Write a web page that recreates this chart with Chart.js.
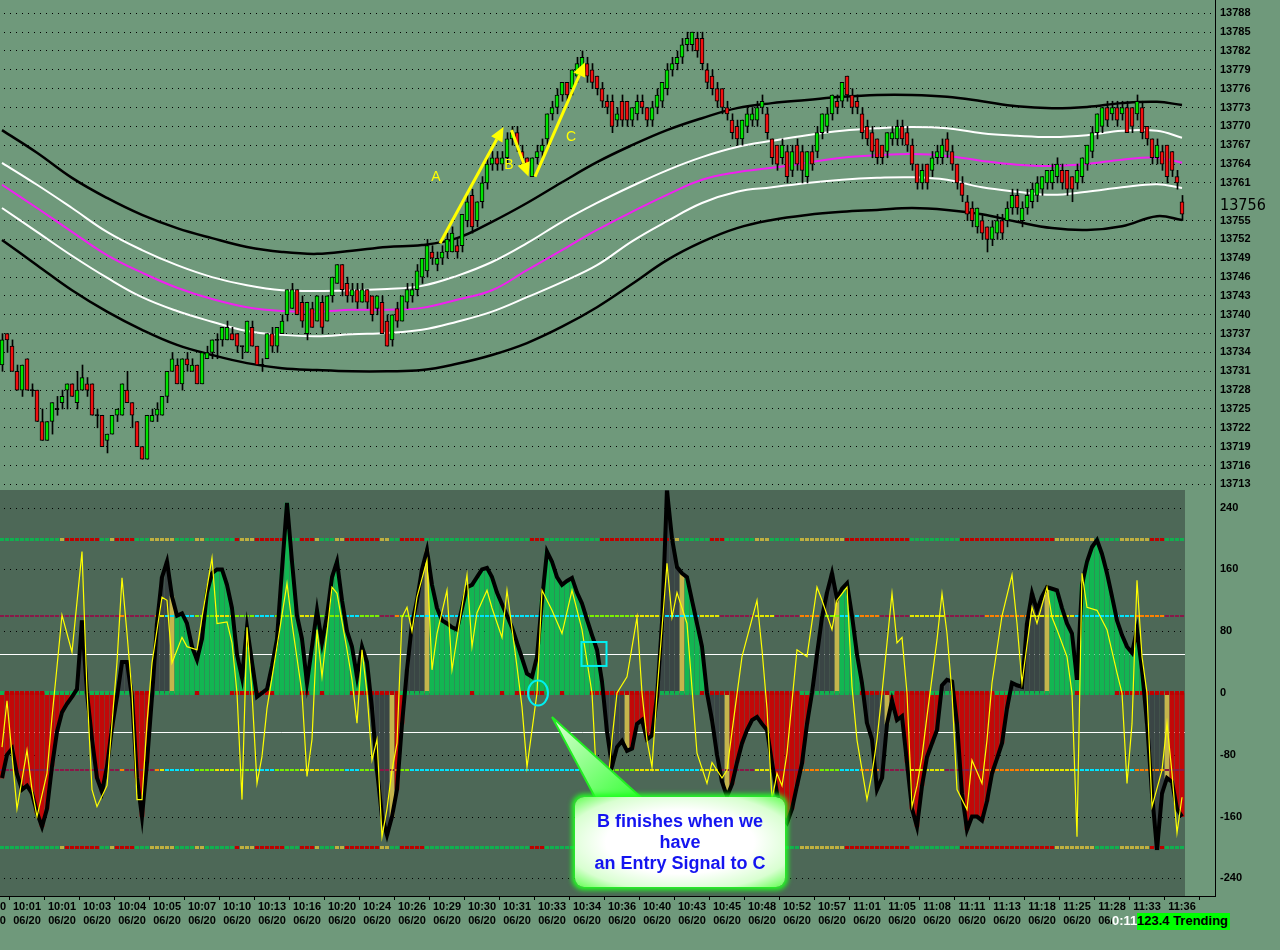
<!DOCTYPE html>
<html>
<head>
<meta charset="utf-8">
<script src="https://cdn.jsdelivr.net/npm/chart.js@4.4.1/dist/chart.umd.min.js"></script>
<style>
html,body{margin:0;padding:0;width:1280px;height:950px;overflow:hidden;background:#6F997B;}
#wrap{position:relative;width:1280px;height:950px;overflow:hidden;}
#top{position:absolute;left:-20px;top:0;}
#osc{position:absolute;left:-20px;top:490px;}
#pointer{position:absolute;left:0;top:0;}
.callout{position:absolute;left:575px;top:797px;width:210px;height:90px;border-radius:9px;
  background:radial-gradient(ellipse at center,#ffffff 50%,#d8ffd0 78%,#60ff50 100%);
  box-shadow:0 0 5px 3px #22ff22;color:#1414f0;
  font:bold 18px "Liberation Sans",Arial,sans-serif;line-height:21px;text-align:center;
  display:flex;align-items:center;justify-content:center;}
#clock{position:absolute;left:1112px;top:913px;height:17px;line-height:17px;width:25px;
  background:#6F997B;color:#fff;font:bold 13px "Liberation Sans",Arial,sans-serif;}
#state{position:absolute;left:1137px;top:913px;height:17px;line-height:17px;width:93px;
  background:#00FF00;color:#000;font:bold 13px "Liberation Sans",Arial,sans-serif;white-space:nowrap;}
</style>
</head>
<body>
<div id="wrap">
  <canvas id="top" width="1300" height="490"></canvas>
  <canvas id="osc" width="1300" height="460"></canvas>
  <svg id="pointer" width="1280" height="950">
    <defs>
      <linearGradient id="pg" x1="0" y1="0" x2="1" y2="1">
        <stop offset="0" stop-color="#e0ffd8"/>
        <stop offset="1" stop-color="#30ff30"/>
      </linearGradient>
    </defs>
    <polygon points="552,717 597,801 645,801" fill="url(#pg)" stroke="#22ee22" stroke-width="2"/>
  </svg>
  <div class="callout">B finishes when we<br>have<br>an Entry Signal to C</div>
  <div id="clock">0:11</div>
  <div id="state">123.4 Trending</div>
</div>
<script>
// ---- price panel data (YM 1-tick bars, 06/20) ----
const OPEN = [
13732,13737,13735,13731,13728,13733,13728,13728,13723,13720,
13723,13725,13726,13728,13729,13726,13728,13729,13729,13724,
13724,13720,13721,13724,13724,13728,13726,13723,13719,13717,
13723,13724,13724,13727,13731,13732,13729,13733,13731,13732,
13729,13733,13734,13736,13736,13736,13737,13737,13735,13734,
13738,13735,13732,13733,13737,13735,13737,13740,13741,13744,
13742,13737,13741,13739,13742,13739,13743,13745,13748,13745,
13743,13744,13742,13744,13743,13741,13742,13739,13736,13741,
13739,13742,13743,13744,13746,13747,13750,13748,13749,13750,
13750,13751,13751,13755,13759,13755,13758,13761,13764,13765,
13764,13765,13768,13769,13766,13765,13762,13765,13766,13768,
13772,13773,13775,13777,13776,13778,13779,13780,13779,13778,
13776,13774,13774,13771,13774,13774,13771,13772,13774,13773,
13771,13773,13774,13776,13779,13780,13781,13783,13783,13784,
13784,13779,13778,13776,13776,13773,13771,13770,13768,13770,
13771,13771,13773,13772,13768,13767,13765,13766,13763,13767,
13766,13762,13766,13766,13769,13770,13772,13774,13774,13778,
13775,13774,13772,13770,13769,13768,13767,13766,13768,13768,
13770,13769,13767,13764,13761,13764,13763,13765,13765,13768,
13766,13764,13761,13758,13757,13754,13755,13754,13752,13753,
13755,13755,13757,13759,13755,13757,13758,13759,13760,13761,
13761,13762,13763,13763,13762,13761,13762,13764,13766,13769,
13770,13773,13772,13773,13772,13773,13773,13772,13773,13770,
13768,13765,13766,13767,13766,13762,13758];
const HIGH = [
13737,13737,13736,13732,13732,13733,13729,13728,13725,13723,
13726,13727,13728,13729,13729,13731,13732,13730,13729,13725,
13724,13721,13724,13725,13729,13731,13726,13723,13719,13724,
13725,13726,13727,13731,13734,13733,13733,13734,13733,13732,
13734,13735,13736,13737,13738,13739,13738,13737,13735,13739,
13739,13735,13733,13737,13738,13738,13740,13744,13745,13744,
13743,13742,13742,13743,13743,13743,13746,13748,13748,13746,
13745,13745,13745,13744,13743,13743,13743,13740,13740,13742,
13743,13745,13745,13748,13749,13752,13751,13750,13751,13753,
13754,13752,13756,13759,13760,13758,13762,13765,13766,13766,
13766,13769,13770,13770,13767,13765,13765,13767,13768,13772,
13774,13776,13777,13777,13779,13781,13782,13781,13780,13778,
13777,13775,13775,13773,13775,13774,13773,13775,13775,13773,
13774,13776,13777,13780,13781,13782,13784,13785,13785,13785,
13785,13780,13779,13777,13776,13774,13772,13771,13771,13773,
13773,13774,13775,13773,13768,13767,13768,13767,13767,13768,
13767,13766,13767,13770,13772,13773,13775,13775,13777,13778,
13776,13775,13773,13771,13770,13768,13767,13769,13770,13771,
13771,13770,13768,13764,13764,13764,13766,13767,13768,13769,
13767,13764,13762,13759,13758,13757,13756,13754,13755,13756,
13756,13758,13760,13760,13758,13760,13761,13762,13762,13763,
13764,13765,13764,13763,13762,13764,13765,13767,13770,13772,
13773,13774,13774,13774,13774,13774,13773,13775,13774,13770,
13768,13768,13767,13767,13766,13763,13759];
const LOW = [
13731,13734,13731,13728,13727,13728,13727,13723,13720,13720,
13721,13724,13725,13725,13727,13725,13728,13727,13724,13722,
13719,13718,13721,13723,13724,13726,13722,13719,13717,13717,
13723,13723,13724,13726,13731,13729,13728,13731,13731,13729,
13729,13733,13733,13733,13735,13736,13736,13734,13733,13734,
13735,13732,13731,13733,13734,13734,13737,13739,13741,13740,
13738,13736,13738,13739,13737,13739,13742,13745,13743,13742,
13742,13741,13742,13741,13739,13740,13737,13735,13735,13738,
13739,13741,13742,13743,13745,13746,13748,13747,13748,13749,
13750,13749,13750,13754,13753,13754,13757,13760,13763,13763,
13763,13764,13767,13766,13764,13763,13762,13764,13765,13767,
13771,13772,13774,13774,13775,13777,13779,13777,13776,13775,
13773,13772,13769,13770,13770,13770,13770,13771,13772,13770,
13770,13772,13773,13775,13778,13779,13780,13782,13782,13781,
13779,13776,13775,13773,13772,13771,13768,13767,13767,13769,
13770,13770,13772,13768,13764,13763,13764,13761,13762,13763,
13761,13761,13763,13765,13768,13769,13771,13772,13773,13774,
13772,13772,13768,13767,13765,13764,13764,13765,13767,13767,
13767,13766,13763,13760,13760,13760,13762,13764,13764,13765,
13763,13760,13758,13755,13754,13753,13752,13750,13751,13752,
13752,13754,13756,13756,13754,13756,13757,13758,13759,13760,
13760,13761,13760,13759,13758,13760,13761,13763,13765,13768,
13769,13770,13771,13770,13771,13769,13769,13771,13768,13767,
13764,13764,13763,13761,13762,13760,13755];
const CLOSE = [
13736,13736,13731,13728,13732,13728,13728,13723,13720,13723,
13726,13725,13727,13729,13727,13728,13730,13728,13724,13724,
13719,13721,13724,13725,13729,13726,13724,13719,13717,13724,
13724,13725,13727,13731,13733,13729,13733,13732,13732,13729,
13734,13734,13736,13736,13738,13738,13736,13735,13735,13739,
13735,13732,13732,13737,13735,13738,13739,13744,13744,13740,
13739,13742,13738,13743,13738,13743,13746,13748,13744,13743,
13744,13742,13744,13742,13740,13743,13737,13735,13740,13739,
13743,13744,13744,13747,13749,13751,13749,13749,13750,13752,
13753,13750,13756,13758,13754,13758,13761,13764,13765,13764,
13765,13768,13769,13767,13765,13764,13765,13766,13767,13772,
13773,13775,13777,13775,13779,13780,13781,13778,13777,13776,
13774,13773,13770,13772,13771,13771,13773,13774,13773,13771,
13773,13775,13777,13779,13780,13781,13783,13784,13785,13782,
13780,13777,13776,13774,13773,13772,13769,13768,13771,13772,
13772,13773,13774,13769,13765,13764,13767,13762,13766,13764,
13763,13766,13764,13769,13772,13772,13775,13773,13777,13775,
13773,13773,13769,13768,13766,13765,13765,13769,13769,13770,
13768,13767,13764,13761,13763,13761,13765,13766,13767,13766,
13764,13761,13759,13756,13755,13757,13753,13752,13754,13755,
13753,13757,13759,13757,13757,13759,13760,13761,13762,13763,
13763,13764,13761,13760,13760,13763,13765,13767,13769,13772,
13773,13771,13773,13771,13773,13769,13770,13774,13769,13768,
13765,13767,13764,13762,13763,13761,13756];

// envelope bands, sampled every 7 bars
const BAND_BARS = [0,7,14,21,28,35,42,49,56,63,70,77,84,91,98,105,112,119,126,133,140,147,154,161,168,175,182,189,196,203,210,217,224,231,236];
const UPPER_OUTER = [13769.4,13765.8,13761.8,13758.6,13755.9,13753.8,13752.2,13750.8,13750.0,13749.7,13750.2,13750.8,13751.1,13752.2,13754.8,13757.8,13761.1,13764.3,13767.0,13769.4,13771.3,13772.9,13773.7,13774.2,13774.7,13775.0,13775.0,13774.7,13774.0,13773.2,13772.9,13773.1,13773.7,13773.9,13773.4];
const UPPER_INNER = [13764.2,13760.7,13757.0,13753.2,13750.3,13747.9,13746.0,13744.7,13743.9,13743.8,13743.9,13744.1,13744.6,13746.2,13748.4,13751.4,13754.8,13757.8,13760.5,13763.0,13765.1,13766.7,13767.7,13768.6,13769.3,13769.7,13769.9,13769.7,13768.9,13768.5,13768.3,13768.6,13769.3,13769.3,13768.2];
const MIDLINE = [13760.7,13757.0,13753.2,13749.5,13746.7,13744.3,13742.5,13741.2,13740.6,13740.5,13740.8,13740.8,13741.1,13742.4,13743.9,13747.1,13750.3,13753.5,13756.4,13759.1,13761.5,13762.7,13763.4,13764.2,13765.0,13765.4,13765.6,13765.3,13764.5,13763.9,13763.7,13764.0,13764.7,13765.0,13764.2];
const LOWER_INNER = [13757.0,13753.2,13749.4,13745.9,13742.8,13740.6,13738.9,13737.4,13736.8,13736.6,13736.9,13737.1,13737.6,13738.9,13740.5,13742.8,13745.2,13747.9,13751.7,13754.9,13757.8,13759.6,13760.3,13761.0,13761.5,13761.8,13761.9,13761.5,13760.3,13759.6,13759.1,13759.6,13760.3,13760.8,13760.2];
const LOWER_OUTER = [13751.9,13747.9,13743.9,13740.5,13737.6,13735.2,13733.6,13732.3,13731.5,13731.2,13731.0,13731.0,13731.2,13732.2,13733.6,13735.5,13738.1,13741.2,13744.9,13748.7,13751.6,13753.8,13755.1,13755.9,13756.4,13756.7,13757.0,13756.7,13756.0,13754.8,13753.8,13753.5,13754.1,13755.7,13755.1];

const PRICE_TICKS = [13713,13716,13719,13722,13725,13728,13731,13734,13737,13740,13743,13746,13749,13752,13755,13761,13764,13767,13770,13773,13776,13779,13782,13785,13788];
const LAST_PRICE = 13756;

// ---- oscillator data ----
const CCI = [
-110,-80,-72,-105,-125,-120,-130,-155,-173,-150,
-95,-50,-25,-14,-5,5,94,0,-60,-110,
-128,-95,-45,-5,40,40,-5,-110,-160,-90,
-5,90,150,170,125,100,103,90,60,43,
70,130,155,160,160,140,110,50,20,85,
40,-5,0,5,35,70,160,246,170,100,
70,13,60,107,65,100,150,170,120,80,
60,21,60,40,-20,-100,-160,-184,-160,-125,
-40,30,90,120,160,185,140,110,94,90,
85,82,110,137,140,150,160,162,150,130,
115,100,85,65,45,25,21,47,120,183,
170,150,140,145,149,130,116,95,75,56,
15,-50,-95,-70,-62,-75,-72,-40,-35,-60,
-55,-5,90,262,200,163,155,150,120,90,
60,0,-35,-80,-115,-134,-118,-90,-65,-48,
-35,-31,-40,-48,-90,-130,-160,-168,-150,-120,
-91,-40,0,50,98,130,155,122,135,142,
100,50,13,-39,-60,-125,-110,-40,-10,-35,
-30,-90,-150,-173,-120,-83,-65,-48,10,17,
15,-39,-130,-177,-160,-160,-165,-140,-104,-85,
-65,-20,13,10,8,90,129,107,125,137,
135,133,110,90,77,17,140,170,189,198,
180,155,125,94,75,60,52,82,30,-39,
-130,-203,-130,-110,-115,-150,-160];

// turbo line vertices [bar, value]
const TURBO = [[0,-70],[1,-10],[3,-150],[5,-74],[6,-125],[7,-160],[9,-104],[10,-31],[11,34],[12,101],[14,53],[16,183],[17,4],[18,-125],[19,-147],[21,-120],[22,-39],[23,40],[24,149],[25,77],[26,0],[27,-138],[28,-138],[29,-39],[30,39],[32,124],[33,120],[34,39],[36,72],[37,60],[39,56],[40,98],[42,175],[43,90],[45,92],[46,65],[47,0],[48,-138],[49,85],[50,0],[51,-117],[52,-82],[53,-20],[55,60],[57,142],[58,90],[60,0],[61,-108],[62,-60],[63,82],[64,21],[66,137],[67,129],[69,56],[70,17],[71,-39],[72,56],[73,0],[74,-87],[75,-60],[76,-186],[77,-150],[78,-100],[79,-65],[80,98],[81,111],[82,80],[83,124],[85,172],[86,30],[87,77],[89,133],[90,30],[93,153],[94,60],[95,104],[97,133],[98,110],[100,72],[101,133],[103,34],[104,-18],[105,-96],[107,0],[108,133],[110,107],[112,77],[114,133],[116,82],[118,0],[119,-122],[120,-110],[121,-130],[122,-60],[123,0],[125,21],[127,98],[128,0],[129,-61],[130,-96],[131,0],[133,168],[134,98],[135,130],[137,90],[139,-78],[141,-117],[142,-90],[144,-110],[145,-100],[146,-50],[148,47],[151,120],[152,56],[153,-20],[154,-138],[155,-104],[156,-120],[157,-78],[159,56],[161,47],[163,137],[164,120],[166,82],[167,120],[169,137],[170,8],[171,-61],[173,-138],[174,-104],[175,-60],[176,0],[178,129],[179,65],[180,72],[181,0],[182,-147],[183,-120],[184,-82],[185,-30],[187,69],[188,129],[189,77],[190,0],[191,-125],[193,-151],[194,-87],[196,-117],[197,-61],[198,13],[200,100],[202,153],[203,90],[204,13],[206,111],[207,90],[209,137],[210,98],[211,82],[213,47],[214,0],[215,-186],[216,155],[217,111],[219,107],[221,82],[223,26],[224,0],[225,-117],[226,-40],[227,146],[228,47],[229,0],[230,-147],[232,-100],[233,-39],[234,-104],[235,-181],[236,-135]];

// histogram state runs [firstBar, lastBar, code]  G trend up, R trend down, D no trend, K sixth bar
const HIST_RUNS = [[0,14,'R'],[15,17,'D'],[18,22,'R'],[23,26,'D'],[27,29,'R'],[30,33,'D'],[34,34,'K'],[35,73,'G'],[74,77,'D'],[78,78,'K'],[79,80,'R'],[81,84,'D'],[85,85,'K'],[86,120,'G'],[121,124,'D'],[125,125,'K'],[126,131,'R'],[132,135,'D'],[136,136,'K'],[137,140,'G'],[141,144,'D'],[145,145,'K'],[146,161,'R'],[162,166,'D'],[167,167,'K'],[168,172,'G'],[173,176,'D'],[177,177,'K'],[178,187,'R'],[188,190,'D'],[191,201,'R'],[202,208,'D'],[209,209,'K'],[210,228,'G'],[229,232,'D'],[233,233,'K'],[234,236,'R']];
const ZERO_RUNS = [[0,0,'G'],[1,8,'R'],[9,25,'G'],[26,29,'R'],[30,38,'G'],[39,39,'R'],[40,45,'G'],[46,54,'R'],[55,59,'G'],[60,61,'R'],[62,63,'G'],[64,64,'R'],[65,69,'G'],[70,79,'R'],[80,93,'G'],[94,94,'R'],[95,99,'G'],[100,100,'R'],[101,102,'G'],[103,108,'R'],[109,111,'G'],[112,112,'R'],[113,117,'G'],[118,131,'R'],[132,139,'G'],[140,159,'R'],[160,171,'G'],[172,177,'R'],[178,178,'G'],[179,185,'R'],[186,190,'G'],[191,198,'R'],[199,214,'G'],[215,215,'R'],[216,222,'G'],[223,236,'R']];
const LINE200_RUNS = [[0,11,'G'],[12,12,'K'],[13,19,'R'],[20,21,'G'],[22,22,'K'],[23,26,'R'],[27,29,'G'],[30,34,'K'],[35,38,'G'],[39,40,'K'],[41,46,'G'],[47,47,'R'],[48,50,'K'],[51,56,'R'],[57,59,'G'],[60,62,'R'],[63,63,'K'],[64,66,'G'],[67,68,'K'],[69,75,'R'],[76,77,'K'],[78,79,'G'],[80,84,'R'],[85,105,'G'],[106,108,'R'],[109,119,'G'],[120,133,'R'],[134,135,'K'],[136,141,'G'],[142,144,'R'],[145,150,'G'],[151,153,'K'],[154,159,'G'],[160,168,'K'],[169,181,'R'],[182,191,'G'],[192,210,'R'],[211,218,'K'],[219,223,'G'],[224,229,'K'],[230,232,'R'],[233,236,'G']];
const LINE100_RUNS = [[0,23,'M'],[24,24,'O'],[25,30,'M'],[31,31,'O'],[32,32,'Y'],[33,38,'C'],[39,42,'L'],[43,46,'Y'],[47,50,'L'],[51,54,'C'],[55,59,'L'],[60,63,'Y'],[64,68,'L'],[69,71,'C'],[72,75,'L'],[76,78,'M'],[79,79,'O'],[80,81,'L'],[82,116,'C'],[117,126,'L'],[127,131,'Y'],[132,139,'C'],[140,143,'Y'],[144,150,'M'],[151,154,'Y'],[155,159,'M'],[160,163,'O'],[164,167,'L'],[168,171,'C'],[172,175,'O'],[176,181,'M'],[182,188,'Y'],[189,196,'M'],[197,205,'O'],[206,214,'Y'],[215,226,'C'],[227,232,'O'],[233,236,'M']];
const OSC_TICKS = [-240,-160,-80,0,80,160,240];
const OSC_GRID = [-240,-160,-80,80,160,240];

// ---- x axis ----
const TICK_BARS = [-2,5,12,19,26,33,40,47,54,61,68,75,82,89,96,103,110,117,124,131,138,145,152,159,166,173,180,187,194,201,208,215,222,229,236];
const TIME_LABELS = ['10:00','10:01','10:01','10:03','10:04','10:05','10:07','10:10','10:13','10:16','10:20','10:24','10:26','10:29','10:30','10:31','10:33','10:34','10:36','10:40','10:43','10:45','10:48','10:52','10:57','11:01','11:05','11:08','11:11','11:13','11:18','11:25','11:28','11:33','11:36'];
const DATE_LABEL = '06/20';

// ---- annotations ----
const ARROWS = [
  {from:[87.6,13751.4], to:[100.3,13769.9]},
  {from:[101.9,13769.4], to:[105.3,13762.0]},
  {from:[106.6,13762.0], to:[116.6,13780.2]}
];
const WAVE_LABELS = [{t:'A',bar:86.8,p:13761.9},{t:'B',bar:101.4,p:13763.8},{t:'C',bar:113.8,p:13768.3}];
const ENTRY_CIRCLE = {bar:107.2, v:0};
const ENTRY_BOX = {bar1:115.9, bar2:120.9, v1:66, v2:35};

// ---- styles ----
const FONT = '"Liberation Sans", Arial, sans-serif';
const DARK_PANEL = '#4D6857';
const HIST_COL = {G:'#12B652', R:'#C20808', D:'#3A4545', K:'#C4B44C'};
const REF_COL = {G:'#10B050', R:'#C00000', K:'#BFB040', M:'#8A1848', O:'#FF8000', Y:'#E6E600', L:'#7CF000', C:'#00E4FF'};

function runCode(runs, i) {
  for (const r of runs) if (i >= r[0] && i <= r[1]) return r[2];
  return null;
}

const X_MIN = -4.4, X_MAX = 242.6;
function fitRight(w) {
  return s => { s.width = w; s.paddingTop = 0; s.paddingBottom = 0; };
}
const plainTick = v => String(v);

// ================= price chart =================
const bodyData = OPEN.map((o, i) => {
  const c = CLOSE[i];
  return {x: i, y: o === c ? [o - 0.1, o + 0.1] : [Math.min(o, c), Math.max(o, c)]};
});
const bodyColors = OPEN.map((o, i) => CLOSE[i] > o ? '#00E400' : (CLOSE[i] < o ? '#F01010' : '#000000'));
const wickData = HIGH.map((h, i) => ({x: i, y: [LOW[i], h]}));
const band = arr => BAND_BARS.map((b, k) => ({x: b, y: arr[k]}));

function drawArrow(ctx, x1, y1, x2, y2) {
  const ang = Math.atan2(y2 - y1, x2 - x1), hl = 14, hw = 6.5;
  const bx = x2 - hl * Math.cos(ang), by = y2 - hl * Math.sin(ang);
  ctx.beginPath(); ctx.moveTo(x1, y1); ctx.lineTo(bx, by); ctx.stroke();
  ctx.beginPath();
  ctx.moveTo(x2, y2);
  ctx.lineTo(bx + hw * Math.sin(ang), by - hw * Math.cos(ang));
  ctx.lineTo(bx - hw * Math.sin(ang), by + hw * Math.cos(ang));
  ctx.closePath(); ctx.fill();
}

const priceDecor = {
  id: 'priceDecor',
  afterDatasetsDraw(chart) {
    const {ctx, scales: {x, y}} = chart;
    ctx.save();
    ctx.strokeStyle = '#FFFF00'; ctx.fillStyle = '#FFFF00'; ctx.lineWidth = 3;
    ARROWS.forEach(a => drawArrow(ctx, x.getPixelForValue(a.from[0]), y.getPixelForValue(a.from[1]),
                                       x.getPixelForValue(a.to[0]), y.getPixelForValue(a.to[1])));
    ctx.font = '14px ' + FONT; ctx.textAlign = 'center'; ctx.textBaseline = 'middle';
    WAVE_LABELS.forEach(l => ctx.fillText(l.t, x.getPixelForValue(l.bar), y.getPixelForValue(l.p)));
    ctx.restore();
  },
  afterDraw(chart) {
    const {ctx, scales: {y}} = chart;
    ctx.save();
    ctx.fillStyle = '#000'; ctx.textAlign = 'left'; ctx.textBaseline = 'middle';
    ctx.font = '16px "Liberation Sans Narrow", "DejaVu Sans Condensed", Arial, sans-serif';
    ctx.fillText(String(LAST_PRICE), y.left + 5, y.getPixelForValue(LAST_PRICE) - 8);
    ctx.restore();
  }
};

new Chart(document.getElementById('top'), {
  type: 'bar',
  data: {
    datasets: [
      {type:'line', data: band(UPPER_OUTER), borderColor:'#000', borderWidth:2.5, pointRadius:0, tension:0.4, order:5},
      {type:'line', data: band(LOWER_OUTER), borderColor:'#000', borderWidth:2.5, pointRadius:0, tension:0.4, order:5},
      {type:'line', data: band(UPPER_INNER), borderColor:'#FFFFFF', borderWidth:2, pointRadius:0, tension:0.4, order:5},
      {type:'line', data: band(LOWER_INNER), borderColor:'#FFFFFF', borderWidth:2, pointRadius:0, tension:0.4, order:5},
      {type:'line', data: band(MIDLINE), borderColor:'#F020F0', borderWidth:2, pointRadius:0, tension:0.4, order:5},
      {data: wickData, xAxisID:'xw', backgroundColor:'#000', barThickness:1, grouped:false, order:2},
      {data: bodyData, backgroundColor: bodyColors, borderColor:'#000', borderWidth:1, borderSkipped:false,
       barThickness:4, grouped:false, order:1}
    ]
  },
  options: {
    responsive:false, animation:false, devicePixelRatio:1, events:[],
    layout:{padding:0},
    plugins:{legend:{display:false}, tooltip:{enabled:false}},
    scales:{
      x:{type:'linear', min:X_MIN, max:X_MAX, offset:false, display:false},
      xw:{type:'linear', axis:'x', min:X_MIN - 0.1, max:X_MAX - 0.1, offset:false, display:false},
      y:{position:'right', min:13712.1, max:13790.12,
         afterBuildTicks: s => { s.ticks = PRICE_TICKS.map(v => ({value:v})); },
         afterFit: fitRight(65),
         ticks:{color:'#000', font:{family:FONT, size:11, weight:'bold'}, padding:5, autoSkip:false, callback: plainTick},
         grid:{color:'#000', lineWidth:1, drawTicks:false},
         border:{display:true, color:'#000', width:1, dash:[1,5]}}
    }
  },
  plugins:[priceDecor]
});

// ================= oscillator =================
const histData = CCI.map((v, i) => ({x:i, y:v}));
const histColors = CCI.map((v, i) => HIST_COL[runCode(HIST_RUNS, i)]);

function drawRefRow(ctx, x, y, runs, value, lw) {
  const py = Math.round(y.getPixelForValue(value)) + (lw % 2 ? 0.5 : 0);
  ctx.lineWidth = lw;
  for (let i = 0; i < CCI.length; i++) {
    ctx.strokeStyle = REF_COL[runCode(runs, i)];
    ctx.beginPath();
    ctx.moveTo(x.getPixelForValue(i - 0.4), py);
    ctx.lineTo(x.getPixelForValue(i + 0.4), py);
    ctx.stroke();
  }
}

const oscDecor = {
  id: 'oscDecor',
  beforeDraw(chart) {
    const {ctx, chartArea: a, scales: {x}} = chart;
    ctx.save();
    ctx.fillStyle = DARK_PANEL;
    ctx.fillRect(a.left, a.top, x.getPixelForValue(CCI.length - 0.4) - a.left, a.bottom - a.top);
    ctx.restore();
  },
  beforeDatasetsDraw(chart) {
    const {ctx, chartArea: a, scales: {x, y}} = chart;
    const right = x.getPixelForValue(CCI.length - 0.4);
    ctx.save();
    ctx.strokeStyle = '#000'; ctx.lineWidth = 1; ctx.setLineDash([1, 5]);
    OSC_GRID.forEach(v => {
      const py = Math.round(y.getPixelForValue(v)) + 0.5;
      ctx.beginPath(); ctx.moveTo(a.left, py); ctx.lineTo(right, py); ctx.stroke();
    });
    ctx.setLineDash([]);
    ctx.strokeStyle = '#FFFFFF';
    [50, -50].forEach(v => {
      const py = Math.round(y.getPixelForValue(v)) + 0.5;
      ctx.beginPath(); ctx.moveTo(a.left, py); ctx.lineTo(right, py); ctx.stroke();
    });
    ctx.restore();
  },
  afterDatasetDraw(chart, args) {
    if (args.index !== 0) return;
    const {ctx, scales: {x, y}} = chart;
    ctx.save();
    drawRefRow(ctx, x, y, LINE200_RUNS, 200, 3);
    drawRefRow(ctx, x, y, LINE200_RUNS, -200, 3);
    drawRefRow(ctx, x, y, LINE100_RUNS, 100, 2);
    drawRefRow(ctx, x, y, LINE100_RUNS, -100, 2);
    drawRefRow(ctx, x, y, ZERO_RUNS, 0, 4);
    ctx.restore();
  },
  afterDatasetsDraw(chart) {
    const {ctx, scales: {x, y}} = chart;
    ctx.save();
    ctx.strokeStyle = '#00F0F0'; ctx.lineWidth = 2;
    ctx.beginPath();
    ctx.ellipse(x.getPixelForValue(ENTRY_CIRCLE.bar), y.getPixelForValue(ENTRY_CIRCLE.v), 10, 12.5, 0, 0, Math.PI * 2);
    ctx.stroke();
    const bx1 = x.getPixelForValue(ENTRY_BOX.bar1), bx2 = x.getPixelForValue(ENTRY_BOX.bar2);
    const by1 = y.getPixelForValue(ENTRY_BOX.v1), by2 = y.getPixelForValue(ENTRY_BOX.v2);
    ctx.strokeRect(bx1, by1, bx2 - bx1, by2 - by1);
    ctx.restore();
  }
};

new Chart(document.getElementById('osc'), {
  type: 'bar',
  data: {
    datasets: [
      {data: histData, backgroundColor: histColors, barThickness:4, grouped:false, order:3},
      {type:'line', data: histData, borderColor:'#000', borderWidth:4, pointRadius:0, tension:0, order:2},
      {type:'line', data: TURBO.map(p => ({x:p[0], y:p[1]})), borderColor:'#FFFF00', borderWidth:1.2,
       pointRadius:0, tension:0, order:1}
    ]
  },
  options: {
    responsive:false, animation:false, devicePixelRatio:1, events:[],
    layout:{padding:0},
    plugins:{legend:{display:false}, tooltip:{enabled:false}},
    scales:{
      x:{type:'linear', min:X_MIN, max:X_MAX, offset:false,
         afterBuildTicks: s => { s.ticks = TICK_BARS.map(v => ({value:v})); },
         afterFit: s => { s.height = 54; s.paddingLeft = 0; s.paddingRight = 0; },
         ticks:{color:'#000', font:{family:FONT, size:11, weight:'bold', lineHeight:1.3}, padding:0,
                autoSkip:false, maxRotation:0,
                callback: (v, idx) => [TIME_LABELS[idx], DATE_LABEL]},
         grid:{display:true, drawOnChartArea:false, drawTicks:true, tickLength:4, color:'#000'},
         border:{display:true, color:'#000', width:1}},
      y:{position:'right', min:-262.8, max:262.8,
         afterBuildTicks: s => { s.ticks = OSC_TICKS.map(v => ({value:v})); },
         afterFit: fitRight(65),
         ticks:{color:'#000', font:{family:FONT, size:11, weight:'bold'}, padding:5, autoSkip:false, callback: plainTick},
         grid:{display:false, drawTicks:false},
         border:{display:true, color:'#000', width:1}}
    }
  },
  plugins:[oscDecor]
});
</script>
</body>
</html>
